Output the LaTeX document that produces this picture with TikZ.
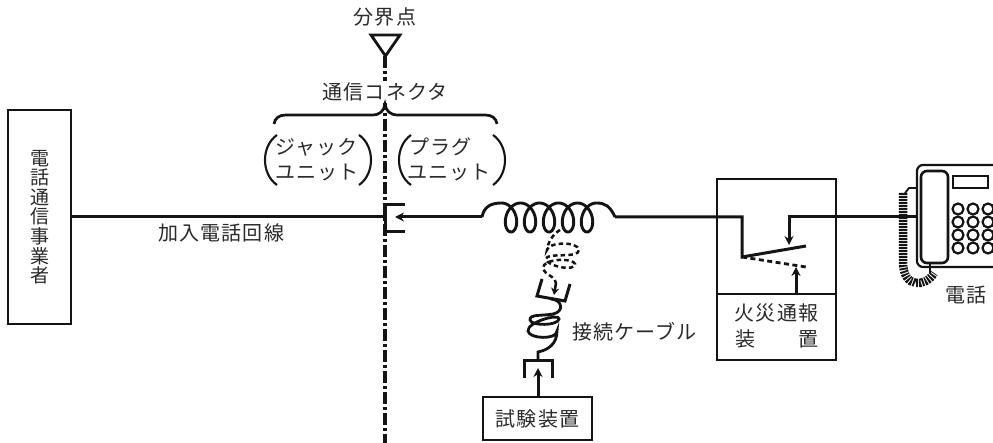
\documentclass[tikz,border=0pt]{standalone}
\usepackage{fontspec}
\newfontfamily\jpf[LetterSpace=6]{Noto Sans CJK JP}
\usetikzlibrary{arrows.meta,calc}
\definecolor{ink}{HTML}{141414}
\definecolor{txt}{HTML}{2A2A2A}
\tikzset{
  wire/.style={draw=ink,line width=3pt,line join=miter},
  thin wire/.style={draw=ink,line width=2.1pt},
  arrowwire/.style={wire,-{Stealth[length=9pt,width=9pt]}},
  dashwire/.style={draw=ink,line width=2.8pt,dash pattern=on 5pt off 3.5pt},
  coildash/.style={draw=ink,line width=2.5pt,dash pattern=on 4.5pt off 3.2pt},
  lbl/.style={font=\jpf\fontsize{20}{22}\selectfont,text=txt,inner sep=0pt},
  boxed/.style={draw=ink,line width=2.6pt,fill=white,inner sep=0pt,align=center},
  boundary/.style={draw=ink,line width=3.2pt,dash pattern=on 12pt off 3pt on 3pt off 3pt}
}
\begin{document}
\begin{tikzpicture}[x=1pt,y=-1pt]
\useasboundingbox (0,0) rectangle (993,443);
\clip (0,0) rectangle (993,443);
\fill[white] (0,0) rectangle (993,443);
% boundary line
\coordinate (btop) at (385,56);
\coordinate (bbot) at (385,443);
\draw[boundary] (btop) -- (bbot);
\draw[draw=ink,line width=2.8pt,fill=white] (371,35) -- (400,35) -- (385.5,56) -- cycle;
\node[lbl] (demark) at (385,17) {分界点};
\node[lbl,fill=white,inner sep=2pt] (conn) at (385,92) {通信コネクタ};
% brace
\draw[wire,line width=2.7pt] (274,124) .. controls (275,118) and (279,115) .. (286,115)
  -- (372,115) .. controls (380,115) and (384,111) .. (385,104)
  .. controls (386,111) and (390,115) .. (398,115)
  -- (485,115) .. controls (492,115) and (496,118) .. (497,124);
% parentheses
\draw[thin wire] (277,135) .. controls (261,146) and (261,174) .. (277,185);
\draw[thin wire] (359,135) .. controls (375,146) and (375,174) .. (359,185);
\draw[thin wire] (411,135) .. controls (395,146) and (395,174) .. (411,185);
\draw[thin wire] (493,135) .. controls (509,146) and (509,174) .. (493,185);
\node[lbl,anchor=west] (jack1) at (275,147) {ジャック};
\node[lbl,anchor=west] (jack2) at (275,173) {ユニット};
\node[lbl,anchor=west] (plug1) at (409,147) {プラグ};
\node[lbl,anchor=west] (plug2) at (407,173) {ユニット};
% carrier
\node[boxed,minimum width=63pt,minimum height=214pt,font=\jpf\fontsize{19}{19.6}\selectfont,text=txt] (carrier) at (39.5,217) {電\\話\\通\\信\\事\\業\\者};
\node[lbl] (line) at (221,233) {加入電話回線};
% jack
\coordinate (jackc) at (385,217);
\draw[wire] (carrier.east |- jackc) -- (jackc);
\draw[wire] (405,205) -- (385,205) -- (385,232) -- (405,232);
\coordinate (coilL) at (482,217);
\coordinate (coilR) at (615,217);
\draw[arrowwire] (coilL) -- (395,217);
% coil
\draw[wire,line width=2.9pt] (coilL) .. controls (484,206) and (492,203) .. (501.5,203)
  plot[domain=0:31.416,samples=220,smooth] ({501.5+3.024*\x+10*sin(\x r)},{217.5-14.5*cos(\x r)})
  .. controls (605,203) and (610,206) .. (coilR);
% dashed cable
\draw[coildash] (560,230) .. controls (553,234) and (548,242) .. (547,250)
  .. controls (548,242) and (578,241) .. (579,250)
  .. controls (579,259) and (546,252) .. (546,259)
  .. controls (546,266) and (576,272) .. (575,264)
  .. controls (574,258) and (543,258) .. (543,268)
  .. controls (545,276) and (556,276) .. (556,283);
\draw[draw=ink,line width=2.6pt,-{Stealth[length=7pt,width=8pt]}] (556,283) -- (554,295);
% tilted plug
\draw[wire] (542,279) -- (537,296) -- (565,301) -- (570,284);
% cable coil
\draw[wire,line width=2.8pt] (551,299) .. controls (563,300) and (564,312) .. (553,314)
  .. controls (542,316) and (529,314) .. (530,320)
  .. controls (531,326) and (558,326) .. (559,319)
  .. controls (560,313) and (527,322) .. (528,331)
  .. controls (529,339) and (557,340) .. (557,331)
  .. controls (557,344) and (548,350) .. (538,352)
  -- (538,361);
% lower plug
\draw[wire] (524,378) -- (524,361) -- (552,361) -- (552,378);
% tester
\node[boxed,minimum width=109pt,minimum height=43pt,font=\jpf\fontsize{20}{22}\selectfont,text=txt] (tester) at (537.5,418.5) {試験装置};
\draw[arrowwire] (tester.north -| 538,0) -- (538,368);
\node[lbl] (cable) at (634.5,332) {接続ケーブル};
% alarm device
\draw[draw=ink,line width=2.6pt] (717,179) rectangle (836,360);
\draw[draw=ink,line width=2.6pt] (717,294) -- (836,294);
\node[lbl] (al1) at (776.5,313) {火災通報};
\node[lbl] (al2) at (745,339) {装};
\node[lbl] (al3) at (808,339) {置};
\draw[wire] (coilR) -- (742,217) -- (742,257) -- (806,246);
\draw[dashwire] (742,257) -- (806,267);
\coordinate (phonein) at (917,217);
\draw[arrowwire] (phonein) -- (789,217) -- (789,245);
\draw[arrowwire] (796,294) -- (796,267);
% telephone
\draw[draw=ink,line width=2.2pt,fill=none,rounded corners=6pt] (917,165) rectangle (1020,267);
\draw[draw=ink,line width=2.6pt,fill=white,rounded corners=6pt] (921,171) rectangle (948,263);
\draw[draw=ink,line width=2.4pt] (953,176) rectangle (988,188);
\foreach \c in {958,973,988}{\foreach \r in {209,222,235,248}{\draw[draw=ink,line width=2.2pt] (\c,\r) circle (5.5);}}
\draw[thin wire,line width=1.8pt] (917,188) -- (909,188) -- (905,193);
\draw[thin wire,line width=1.8pt] (930,263) -- (930,273);
\draw[draw=ink,line width=8.5pt,dash pattern=on 1.9pt off 1.1pt]
  (903,193) -- (903,262) .. controls (903,289) and (926,287) .. (934,273);
\node[lbl] (tel) at (966,295) {電話};
\end{tikzpicture}
\end{document}
